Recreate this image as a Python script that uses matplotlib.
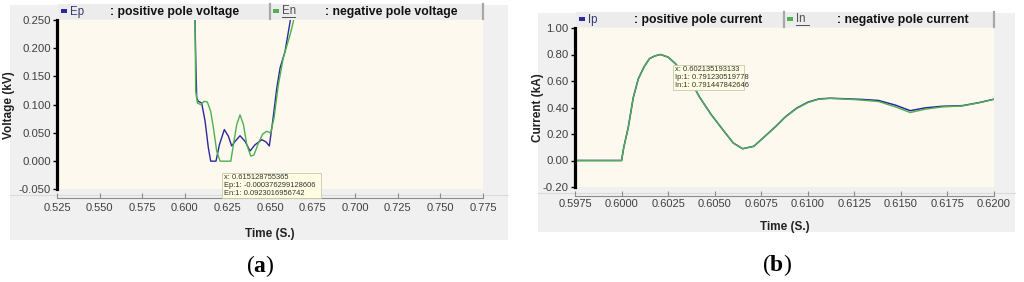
"""
Pole voltage and pole current traces, two panels side by side
"""
import matplotlib

matplotlib.use("Agg")
import matplotlib.pyplot as plt
from matplotlib.patches import Rectangle
from matplotlib.lines import Line2D
from matplotlib.ticker import FormatStrFormatter

plt.rcParams["font.family"] = ["Liberation Sans", "DejaVu Sans"]
plt.rcParams["mathtext.fontset"] = "custom"
plt.rcParams["mathtext.rm"] = "Liberation Serif"
plt.rcParams["mathtext.bf"] = "Liberation Serif:bold"

# (a) pole voltage, kV
t_ep = [0.6058, 0.6060, 0.6065, 0.6070, 0.6079, 0.6099, 0.6119, 0.6138, 0.6152,
        0.6183, 0.6203, 0.6232, 0.6256, 0.6275, 0.6295, 0.6324, 0.6354, 0.6383,
        0.6412, 0.6452, 0.6477, 0.6496, 0.6516, 0.6540, 0.6559, 0.6588, 0.6618,
        0.6625]
ep = [0.300, 0.247, 0.170, 0.112, 0.106, 0.103, 0.071, 0.024, 0.000,
      0.000, 0.029, 0.056, 0.044, 0.027, 0.035, 0.045, 0.035, 0.018,
      0.029, 0.038, 0.034, 0.027, 0.071, 0.130, 0.165, 0.194, 0.247,
      0.270]
t_en = [0.6058, 0.6060, 0.6064, 0.6074, 0.6094, 0.6113, 0.6132, 0.6152, 0.6168,
        0.6187, 0.6207, 0.6270, 0.6285, 0.6305, 0.6324, 0.6344, 0.6364, 0.6387,
        0.6406, 0.6432, 0.6457, 0.6481, 0.6504, 0.6524, 0.6549, 0.6578, 0.6618,
        0.6637, 0.6645]
en = [0.300, 0.247, 0.124, 0.103, 0.100, 0.106, 0.105, 0.088, 0.059,
      0.018, 0.000, 0.000, 0.029, 0.065, 0.082, 0.065, 0.029, 0.009,
      0.011, 0.032, 0.048, 0.053, 0.050, 0.077, 0.135, 0.183, 0.224,
      0.247, 0.270]
volt_xticks = [0.525, 0.550, 0.575, 0.600, 0.625, 0.650, 0.675, 0.700, 0.725, 0.750, 0.775]
volt_yticks = [-0.050, 0.000, 0.050, 0.100, 0.150, 0.200, 0.250]

# (b) pole current, kA
t_i = [0.5975, 0.6000, 0.60012, 0.60036, 0.60063, 0.6009, 0.6012, 0.6015, 0.6018,
       0.6021, 0.6025, 0.6029, 0.6034, 0.6039, 0.6042, 0.6048, 0.6055, 0.6060,
       0.6065, 0.6071, 0.6076, 0.6083, 0.6088, 0.6094, 0.6100, 0.6106, 0.6112,
       0.6120, 0.6129, 0.6138, 0.6147, 0.6155, 0.6163, 0.6172, 0.6183, 0.6192,
       0.6200]
ip = [0.000, 0.000, 0.100, 0.250, 0.476, 0.616, 0.705, 0.769, 0.790,
      0.800, 0.780, 0.730, 0.645, 0.552, 0.476, 0.349, 0.221, 0.132,
      0.089, 0.107, 0.170, 0.260, 0.330, 0.395, 0.440, 0.465, 0.470,
      0.466, 0.461, 0.453, 0.418, 0.376, 0.397, 0.409, 0.414, 0.437,
      0.463]
i_n = [0.000, 0.000, 0.100, 0.250, 0.476, 0.616, 0.705, 0.769, 0.790,
       0.800, 0.780, 0.730, 0.645, 0.552, 0.476, 0.349, 0.221, 0.132,
       0.089, 0.107, 0.170, 0.258, 0.328, 0.392, 0.437, 0.463, 0.469,
       0.464, 0.456, 0.445, 0.405, 0.362, 0.387, 0.404, 0.412, 0.436,
       0.462]
curr_xticks = [0.5975, 0.6000, 0.6025, 0.6050, 0.6075, 0.6100, 0.6125, 0.6150, 0.6175, 0.6200]
curr_yticks = [-0.20, 0.00, 0.20, 0.40, 0.60, 0.80, 1.00]

tip_a = ["x: 0.615128755365", "Ep:1: -0.000376299128606", "En:1: 0.0923016956742"]
tip_b = ["x: 0.602135193133", "Ip:1: 0.791230519778", "In:1: 0.791447842646"]

W, H = 1024, 282
BLUE = "#2a2a9a"
GREEN = "#4fb04f"
CREAM = "#fdf9ee"
PANEL = "#f0f0f0"


def box(x0, y0, x1, y1):
    return [x0 / W, 1 - y1 / H, (x1 - x0) / W, (y1 - y0) / H]


def rect(fig, x0, y0, x1, y1, **kw):
    b = box(x0, y0, x1, y1)
    fig.add_artist(Rectangle((b[0], b[1]), b[2], b[3], transform=fig.transFigure, **kw))


def ftext(fig, x, y, s, **kw):
    fig.text(x / W, 1 - y / H, s, **kw)


def vline(fig, x, y0, y1, **kw):
    fig.add_artist(Line2D([x / W, x / W], [1 - y0 / H, 1 - y1 / H], transform=fig.transFigure, **kw))


def style_axes(ax, ylabel, ylab_x, xlab_y, pad):
    ax.set_facecolor(CREAM)
    for s in ["top", "right"]:
        ax.spines[s].set_visible(False)
    ax.spines["left"].set_linewidth(2.3)
    ax.spines["left"].set_color("black")
    ax.spines["bottom"].set_position(("outward", 6.5))
    ax.spines["bottom"].set_color("#8c8c8c")
    ax.tick_params(axis="x", direction="in", length=3.5, color="#8c8c8c",
                   labelsize=8, labelcolor="#404040", pad=pad)
    ax.tick_params(axis="y", direction="out", length=3, width=1, color="black",
                   labelsize=8.2, labelcolor="#404040", pad=1.5)
    ax.set_xlabel("Time (S.)", fontsize=8.5, fontweight="bold", color="#222222")
    ax.set_ylabel(ylabel, fontsize=8.5, fontweight="bold", color="#222222")
    ax.xaxis.set_label_coords(0.5, xlab_y)
    ax.yaxis.set_label_coords(ylab_x, 0.5)


def legend_bar(fig, x0, x1, y0, y1, sep, names, descs):
    yc = (y0 + y1) / 2
    rect(fig, x0, y0, x1, y1, facecolor="#ececec", edgecolor="none", zorder=3)
    vline(fig, sep, y0, y1, color="#a8a8a8", lw=1.6, zorder=4)
    vline(fig, x1, y0, y1, color="#a8a8a8", lw=1.6, zorder=4)
    starts = [x0 + 3, sep + 3]
    cols = [BLUE, GREEN]
    for k in range(2):
        sx = starts[k]
        rect(fig, sx, yc - 2, sx + 6, yc + 1.5, facecolor=cols[k], edgecolor="none", zorder=4)
        ftext(fig, sx + 9, yc, names[k], fontsize=8.3, color="#3a3a70" if k == 0 else "#505050",
              ha="left", va="center", zorder=5)
        ftext(fig, descs[k][1], yc, descs[k][0], fontsize=8.8, fontweight="bold",
              color="#111111", ha="left", va="center", zorder=5)
    # underline under second name
    vx = sep + 12
    fig.add_artist(Line2D([vx / W, (vx + 13) / W], [1 - (yc + 5) / H] * 2,
                          transform=fig.transFigure, color="#505050", lw=0.7, zorder=5))


def tooltip(fig, x0, y0, x1, y1, lines):
    rect(fig, x0, y0, x1, y1, facecolor="#fefde2", edgecolor="#c8c8b0", lw=0.6, zorder=6)
    step = (y1 - y0) / 3
    for k, s in enumerate(lines):
        ftext(fig, x0 + 2, y0 + step * (k + 0.5), s, fontsize=5.4, color="#333333",
              ha="left", va="center", zorder=7)


fig = plt.figure(figsize=(W / 100, H / 100), dpi=100)

# gray panel backgrounds
rect(fig, 10, 5, 508, 240, facecolor=PANEL, edgecolor="none", zorder=-2)
rect(fig, 538, 13, 1015, 232, facecolor=PANEL, edgecolor="none", zorder=-2)
fig.add_artist(Line2D([10 / W, 508 / W], [1 - 195 / H] * 2, transform=fig.transFigure,
                      color="#dcdcdc", lw=0.8, zorder=-1))
fig.add_artist(Line2D([538 / W, 1015 / W], [1 - 193 / H] * 2, transform=fig.transFigure,
                      color="#dcdcdc", lw=0.8, zorder=-1))

# (a) voltage
ax1 = fig.add_axes(box(57, 20, 483, 189.4))
ax1.plot(t_ep, ep, color=BLUE, lw=1.0)
ax1.plot(t_en, en, color=GREEN, lw=1.0)
ax1.set_xlim(0.525, 0.775)
ax1.set_ylim(-0.05, 0.25)
ax1.set_xticks(volt_xticks)
ax1.set_yticks(volt_yticks)
ax1.xaxis.set_major_formatter(FormatStrFormatter("%.3f"))
ax1.yaxis.set_major_formatter(FormatStrFormatter("%.3f"))
style_axes(ax1, "Voltage (kV)", -0.098, -0.225, 3)

# (b) current
ax2 = fig.add_axes(box(575, 28, 994, 187))
ax2.plot(t_i, ip, color=BLUE, lw=1.1)
ax2.plot(t_i, i_n, color=GREEN, lw=1.0)
ax2.set_xlim(0.5975, 0.62)
ax2.set_ylim(-0.2, 1.0)
ax2.set_xticks(curr_xticks)
ax2.set_yticks(curr_yticks)
ax2.xaxis.set_major_formatter(FormatStrFormatter("%.4f"))
ax2.yaxis.set_major_formatter(FormatStrFormatter("%.2f"))
style_axes(ax2, "Current (kA)", -0.074, -0.215, 2)

legend_bar(fig, 58, 483, 4, 19, 270, ["Ep", "En"],
           [(": positive pole voltage", 110), (": negative pole voltage", 325)])
legend_bar(fig, 576, 994, 12, 27, 784, ["Ip", "In"],
           [(": positive pole current", 634), (": negative pole current", 837)])

tooltip(fig, 222, 173, 321, 198, tip_a)
tooltip(fig, 673, 65, 744, 90, tip_b)

ftext(fig, 260, 266, r"($\mathbf{a}$)", fontsize=17, family="Liberation Serif",
      ha="center", va="center")
ftext(fig, 777, 265, r"($\mathbf{b}$)", fontsize=17, family="Liberation Serif",
      ha="center", va="center")

fig.savefig("out.png", dpi=100, facecolor="white")
